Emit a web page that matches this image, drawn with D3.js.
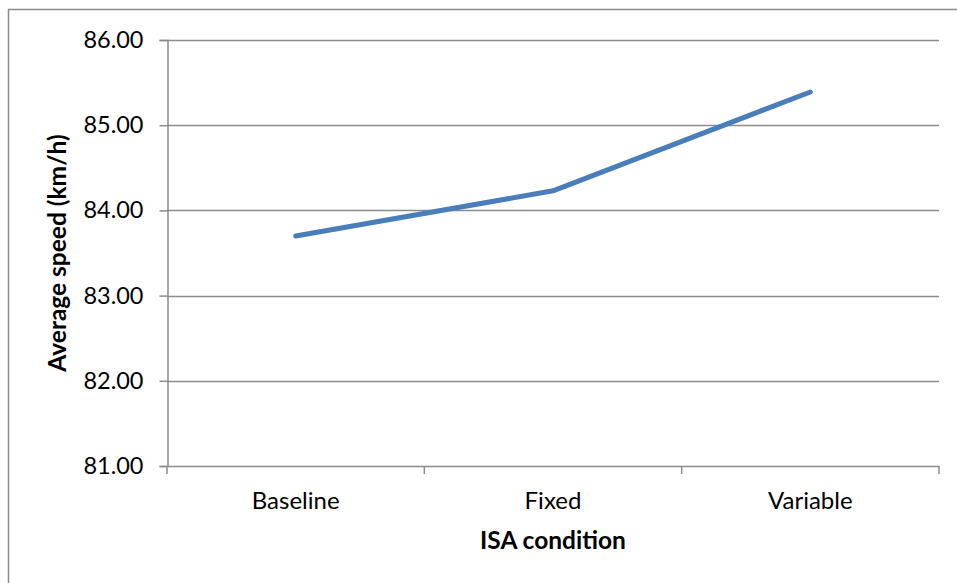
<!DOCTYPE html>
<html>
<head>
<meta charset="utf-8">
<script src="https://cdn.jsdelivr.net/npm/d3@7"></script>
<style>
  html, body { margin: 0; padding: 0; background: #fff; overflow: hidden; }
  svg { display: block; }
</style>
</head>
<body>
<script>
const categories = ["Baseline", "Fixed", "Variable"];
const speedValues = [83.70, 84.23, 85.39];
const yTicks = [81, 82, 83, 84, 85, 86];
const xTitle = "ISA condition";
const yTitle = "Average speed (km/h)";

(function () {
const W = 957, H = 583;
const mLeft = 167, mRight = 939, mTop = 40, mBottom = 466;
const font = "Lato, 'Open Sans', sans-serif";
const gridColor = "#8c8c8c";

const svg = d3.select("body").append("svg").attr("width", W).attr("height", H);

// outer border
svg.append("rect").attr("x", 8.5).attr("y", 9.5).attr("width", W).attr("height", H)
  .attr("fill", "none").attr("stroke", "#8c8c8c").attr("stroke-width", 1.5);

const x = d3.scaleBand().domain(categories).range([mLeft, mRight]);
const y = d3.scaleLinear().domain([81, 86]).range([mBottom, mTop]);

// gridlines
svg.append("g").selectAll("line").data(yTicks.filter(d => d !== 81)).join("line")
  .attr("x1", mLeft).attr("x2", mRight)
  .attr("y1", d => Math.round(y(d)) + 0.5).attr("y2", d => Math.round(y(d)) + 0.5)
  .attr("stroke", gridColor).attr("stroke-width", 1.5);

// y axis
const yAxis = svg.append("g").attr("transform", `translate(${mLeft + 0.5},0)`)
  .call(d3.axisLeft(y).tickValues(yTicks).tickFormat(d3.format(".2f")).tickSize(8).tickPadding(16));
yAxis.select(".domain").attr("stroke", gridColor).attr("stroke-width", 1.5);
yAxis.selectAll(".tick line").attr("stroke", gridColor).attr("stroke-width", 1.5);
yAxis.selectAll(".tick text").attr("font-family", font).attr("font-size", 23.5).attr("fill", "#000");

// x axis
const tickPositions = categories.map(c => x(c)).concat([x(categories[categories.length - 1]) + x.bandwidth()]);
const xg = svg.append("g");
xg.append("line").attr("x1", mLeft).attr("x2", mRight)
  .attr("y1", mBottom + 0.5).attr("y2", mBottom + 0.5)
  .attr("stroke", gridColor).attr("stroke-width", 1.5);
xg.selectAll("line.tk").data(tickPositions).join("line").attr("class", "tk")
  .attr("x1", d => d).attr("x2", d => d)
  .attr("y1", mBottom).attr("y2", mBottom + 8)
  .attr("stroke", gridColor).attr("stroke-width", 1.5);
xg.selectAll("text").data(categories).join("text")
  .attr("x", d => x(d) + x.bandwidth() / 2).attr("y", 509)
  .attr("text-anchor", "middle").attr("font-family", font).attr("font-size", 24).attr("fill", "#000")
  .text(d => d);

// titles
svg.append("text").attr("x", (mLeft + mRight) / 2).attr("y", 549)
  .attr("text-anchor", "middle").attr("font-family", font).attr("font-size", 24.5).attr("font-weight", "bold")
  .text(xTitle);
svg.append("text").attr("transform", `translate(66,${(mTop + mBottom) / 2}) rotate(-90)`)
  .attr("text-anchor", "middle").attr("font-family", font).attr("font-size", 24.5).attr("font-weight", "bold")
  .text(yTitle);

// line
const line = d3.line().x((d, i) => x(categories[i]) + x.bandwidth() / 2).y(d => y(d));
svg.append("path").datum(speedValues).attr("d", line)
  .attr("fill", "none").attr("stroke", "#4a7ebb").attr("stroke-width", 5)
  .attr("stroke-linecap", "round").attr("stroke-linejoin", "round");
})();
</script>
</body>
</html>
